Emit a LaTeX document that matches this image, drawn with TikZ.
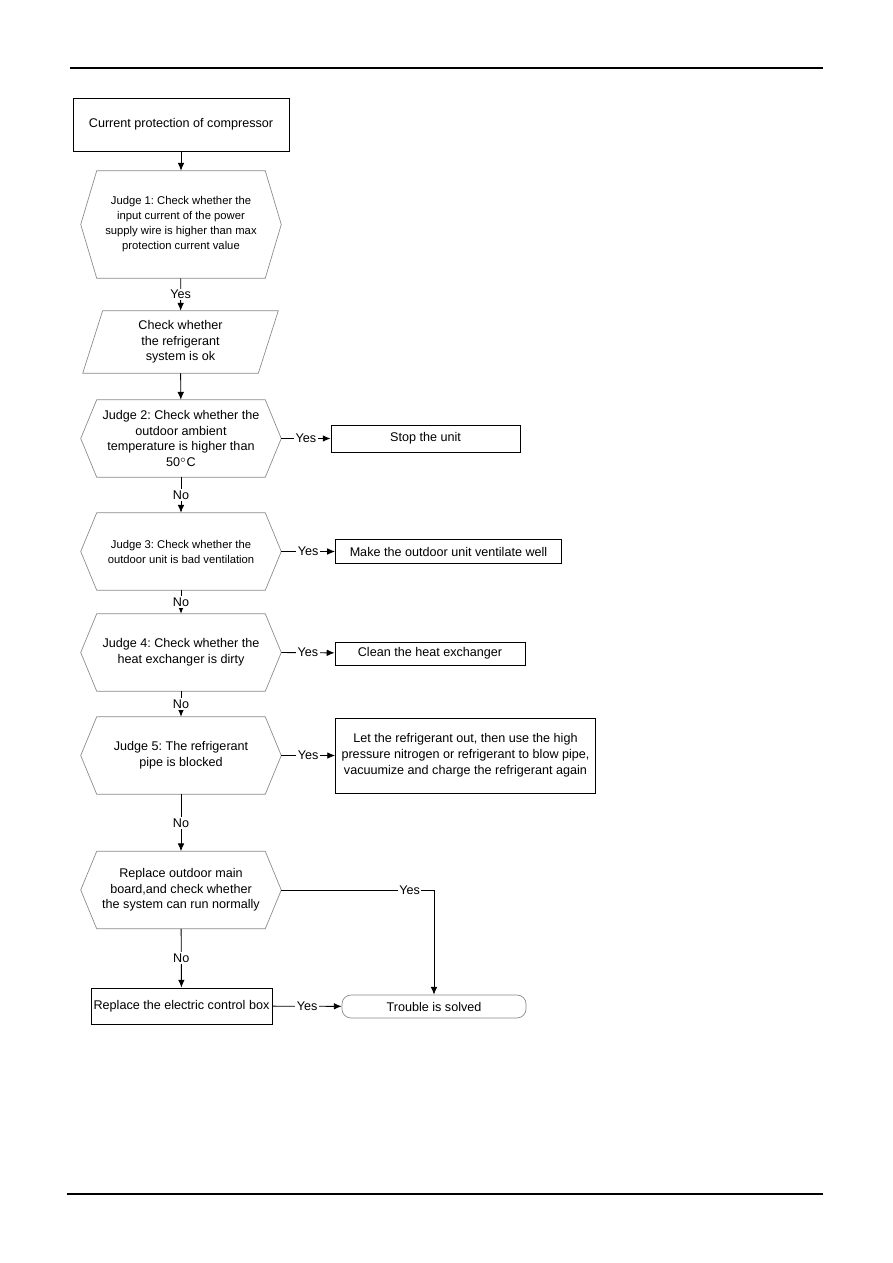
\documentclass[tikz,border=0pt]{standalone}
\usepackage{fontspec}
\setmainfont{Liberation Sans}
\usetikzlibrary{arrows.meta}
\definecolor{EdgeGray}{HTML}{8A8A8A}
\frenchspacing

\tikzset{
  txt/.style={font=\fontsize{8.4}{10.4}\selectfont},
  smalltxt/.style={font=\fontsize{7.5}{10}\selectfont},
  box/.style={draw=black,line width=0.6pt,inner sep=1pt,align=center,txt},
  hexbox/.style={inner sep=0pt,align=center,minimum width=133.3pt,minimum height=51.3pt,txt},
  hexline/.style={draw=EdgeGray,line width=0.45pt},
  flow/.style={-{Latex[length=5.2pt,width=4.4pt]},line width=0.6pt},
  lab/.style={fill=white,inner sep=1pt,txt}
}

\begin{document}
\begin{tikzpicture}[x=0.6667pt,y=-0.6667pt]
  \useasboundingbox[fill=white] (0,0) rectangle (893,1263);
  \draw[line width=0.9pt] (70,68) -- (823,68);
  \draw[line width=0.9pt] (67,1194) -- (823,1194);

  \node[box,minimum width=144pt,minimum height=35.3pt] (start) at (181,124.5) {Current protection of compressor};
  \node[hexbox,smalltxt,minimum height=71.3pt] (j1) at (181,224.5) {Judge 1: Check whether the\\input current of the power\\supply wire is higher than max\\protection current value};
  \node[inner sep=0pt,align=center,minimum width=130pt,minimum height=41.3pt,txt] (chk) at (180.5,342) {Check whether\\the refrigerant\\system is ok};
  \node[hexbox] (j2) at (181,438.5) {Judge 2: Check whether the\\outdoor ambient\\temperature is higher than\\50$^{\circ}$C};
  \node[box,minimum width=126pt,minimum height=18pt] (stop) at (425.5,438.5) {Stop the unit};
  \node[hexbox,smalltxt] (j3) at (181,551.5) {Judge 3: Check whether the\\outdoor unit is bad ventilation};
  \node[box,minimum width=150.7pt,minimum height=16pt] (vent) at (448.5,551.5) {Make the outdoor unit ventilate well};
  \node[hexbox] (j4) at (181,652.5) {Judge 4: Check whether the\\heat exchanger is dirty};
  \node[box,minimum width=126.7pt,minimum height=15.3pt] (clean) at (430,653.5) {Clean the heat exchanger};
  \node[hexbox] (j5) at (181,755.5) {Judge 5: The refrigerant\\pipe is blocked};
  \node[box,minimum width=173.3pt,minimum height=50pt,font=\fontsize{8.4}{10.7}\selectfont] (blow) at (465.5,755.5) {Let the refrigerant out, then use the high\\pressure nitrogen or refrigerant to blow pipe,\\vacuumize and charge the refrigerant again};
  \node[hexbox] (j6) at (181,890) {Replace outdoor main\\board,and check whether\\the system can run normally};
  \node[box,minimum width=120.7pt,minimum height=24pt] (ecb) at (181.5,1006) {Replace the electric control box};
  \node[draw=EdgeGray,line width=0.45pt,rounded corners=6pt,inner sep=1pt,minimum width=122.7pt,minimum height=15.3pt,txt] (solved) at (434,1006.5) {Trouble is solved};

  \foreach \h in {j1,j2,j3,j4,j5,j6}
    \draw[hexline] (\h.west) -- ([xshift=10.67pt]\h.north west) -- ([xshift=-10.67pt]\h.north east)
      -- (\h.east) -- ([xshift=-10.67pt]\h.south east) -- ([xshift=10.67pt]\h.south west) -- cycle;
  \draw[hexline] (chk.south west) -- ([xshift=13.3pt]chk.north west) -- (chk.north east)
    -- ([xshift=-13.3pt]chk.south east) -- cycle;

  \draw[flow] (start) -- (j1);
  \draw[flow] (j1) -- node[lab] {Yes} (chk);
  \draw[flow] (chk) -- (j2);
  \draw[flow] (j2) -- node[lab] {No} (j3);
  \draw[flow] (j3) -- node[lab] {No} (j4);
  \draw[flow] (j4) -- node[lab] {No} (j5);
  \draw[flow] (j5) -- node[lab] {No} (j6);
  \draw[flow] (j6) -- node[lab] {No} (ecb);
  \draw[flow] (j2.east) -- node[lab] {Yes} (stop);
  \draw[flow] (j3.east) -- node[lab] {Yes} (vent);
  \draw[flow] (j4.east) -- node[lab] {Yes} (clean);
  \draw[flow] (j5.east) -- node[lab] {Yes} (blow);
  \draw[flow] (j6.east) -| node[lab,pos=0.42] {Yes} (solved.north);
  \draw[flow] (ecb) -- node[lab] {Yes} (solved);
\end{tikzpicture}
\end{document}
